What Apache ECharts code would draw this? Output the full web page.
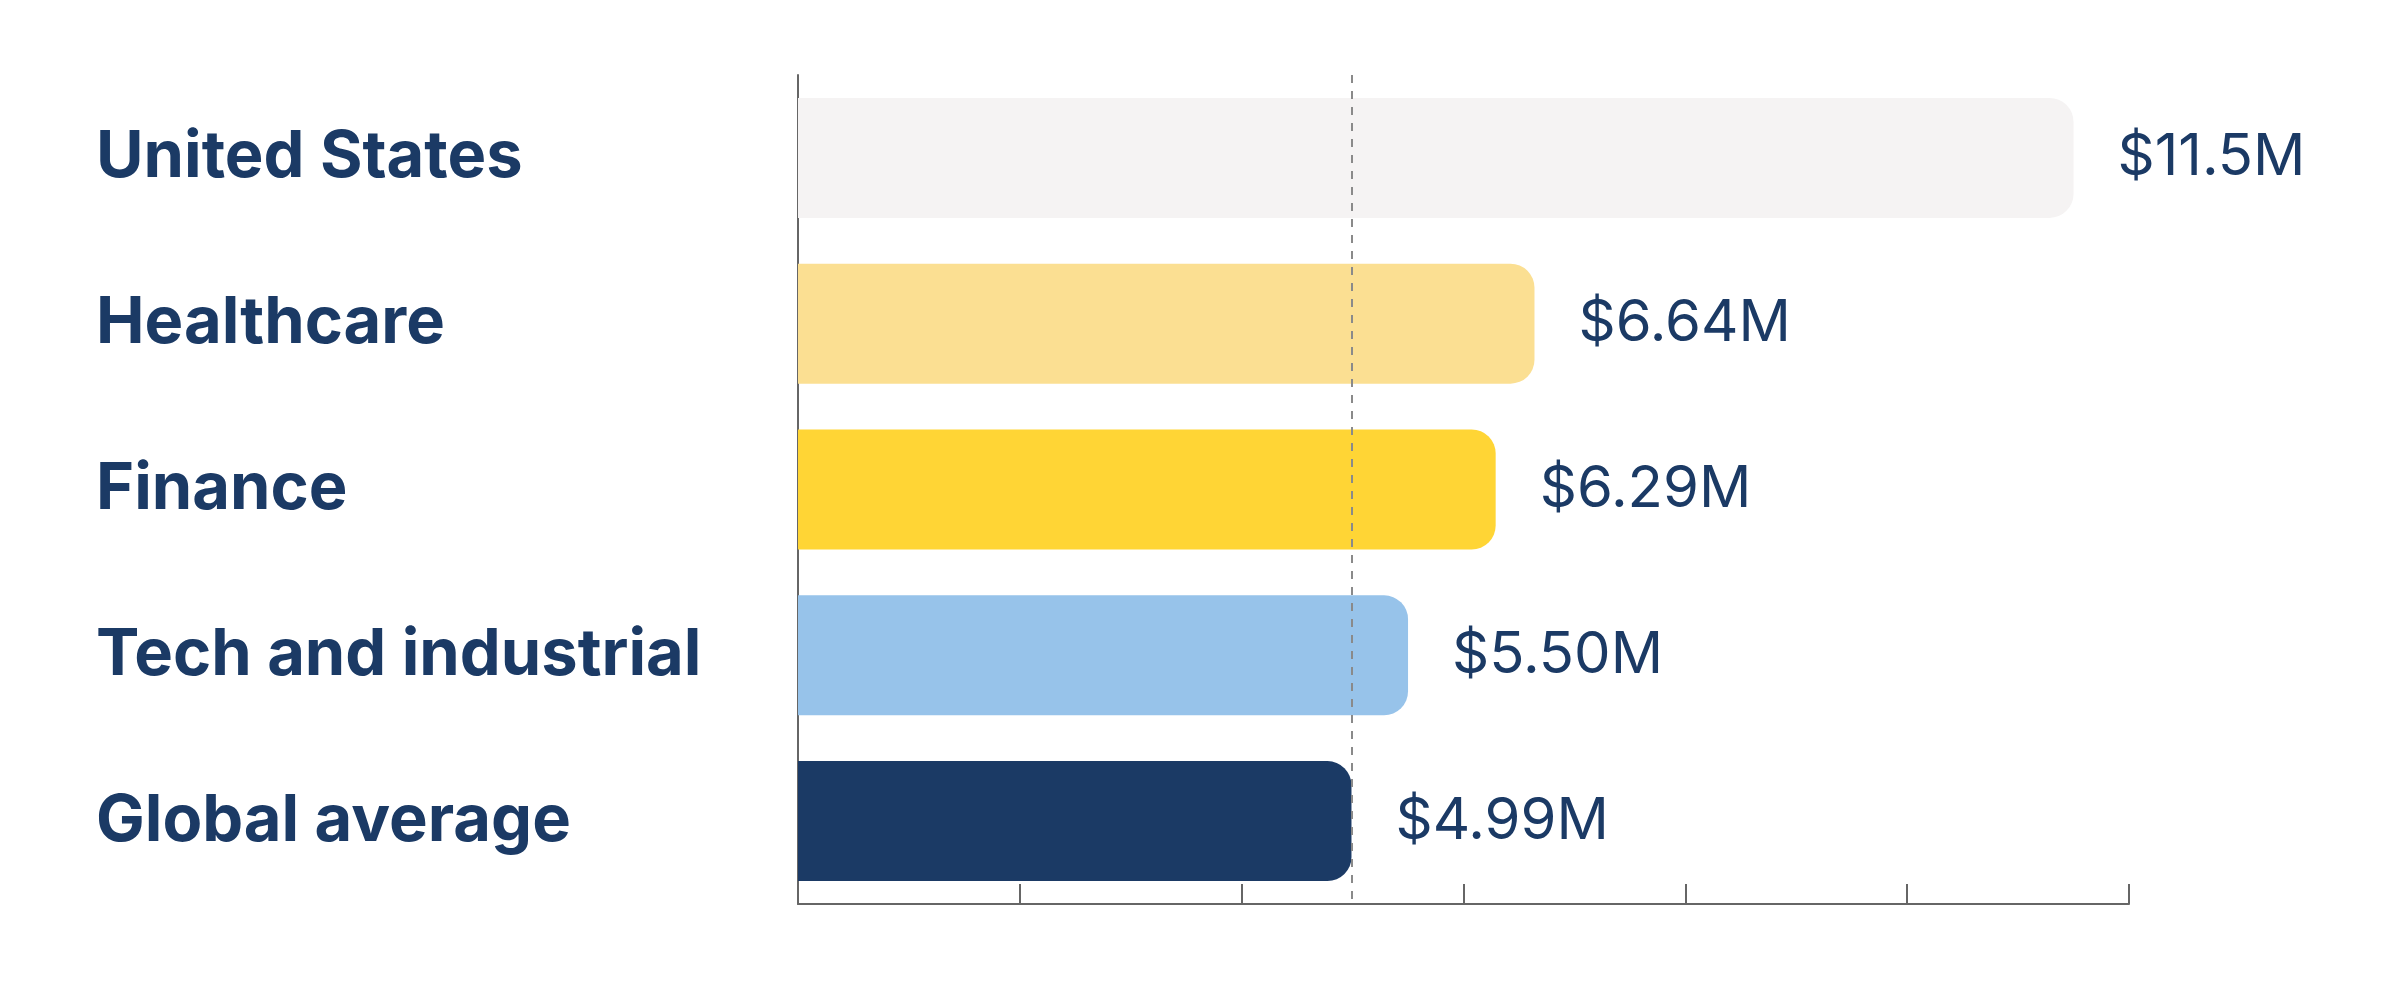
<!DOCTYPE html>
<html>
<head>
<meta charset="utf-8">
<script src="https://cdn.jsdelivr.net/npm/echarts@6/dist/echarts.min.js"></script>
<style>
  html, body { margin: 0; padding: 0; background: #ffffff; }
  #chart { width: 2400px; height: 992px; }
</style>
</head>
<body>
<div id="chart"></div>
<script>
// Categories, top to bottom
const categories = ["United States", "Healthcare", "Finance", "Tech and industrial", "Global average"];

// Average cost of a data breach, $M
const costValues = [11.5, 6.64, 6.29, 5.50, 4.99];

// Bar colours, one per category
const barColors = ["#F5F3F3", "#FBDF92", "#FFD535", "#97C3EA", "#1B3A65"];

// Reference line (global average)
const averageLine = 4.99;

const navy = "#1B3A65";

// Build bar data items
const barData = costValues.map((v, i) => ({
    value: v,
    itemStyle: { color: barColors[i] }
}));

const chart = echarts.init(document.getElementById("chart"));

const option = {
    backgroundColor: "#ffffff",
    animation: false,

    // GRID
    grid: {
        left: 798,
        top: 75,
        width: 1331,
        height: 829,
        outerBoundsMode: "none"
    },

    // XAXIS
    xAxis: {
        type: "value",
        min: 0,
        max: 12,
        interval: 2,
        axisLine: { show: true, lineStyle: { color: "#666666", width: 2 } },
        axisTick: { show: true, inside: true, length: 20, lineStyle: { color: "#666666", width: 2 } },
        axisLabel: { show: false },
        splitLine: { show: false }
    },

    // YAXIS
    yAxis: {
        type: "category",
        data: categories,
        inverse: true,
        axisLine: { show: true, lineStyle: { color: "#666666", width: 2 } },
        axisTick: { show: false },
        axisLabel: {
            align: "left",
            margin: 702,
            color: navy,
            fontFamily: "Inter",
            fontWeight: 700,
            fontSize: 65,
            padding: [26, 0, 0, 0]
        }
    },

    // SERIES
    series: [{
        type: "bar",
        data: barData,
        barWidth: 120,
        itemStyle: { borderRadius: [0, 24, 24, 0] },
        label: {
            show: true,
            position: "right",
            distance: 44,
            color: navy,
            fontFamily: "Inter",
            fontWeight: 400,
            fontSize: 58,
            padding: [20, 0, 0, 0],
            formatter: p => "$" + p.value.toPrecision(3) + "M"
        },
        markLine: {
            silent: true,
            symbol: "none",
            label: { show: false },
            lineStyle: { color: "#8a8a8a", type: [8, 8], width: 2 },
            data: [{ xAxis: averageLine }]
        }
    }]
};

chart.setOption(option);
</script>
</body>
</html>
